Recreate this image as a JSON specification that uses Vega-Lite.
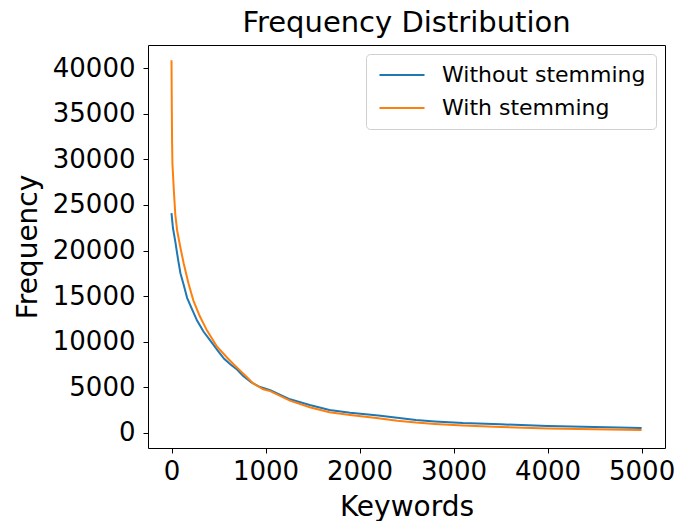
{
  "$schema": "https://vega.github.io/schema/vega-lite/v6.json",
  "width": 517,
  "height": 403,
  "autosize": {"type": "none"},
  "padding": {"left": 148, "top": 45, "right": 15, "bottom": 73},
  "background": "white",
  "title": {"text": "Frequency Distribution", "fontSize": 29, "font": "DejaVu Sans", "fontWeight": "normal", "color": "black", "offset": 7},
  "config": {
    "view": {"stroke": "black", "strokeWidth": 1},
    "axis": {"grid": false, "domain": false, "tickColor": "black", "tickSize": 5, "labelFont": "DejaVu Sans", "labelFontSize": 26, "labelColor": "black", "titleFont": "DejaVu Sans", "titleFontSize": 28, "titleFontWeight": "normal", "titleColor": "black"}
  },
  "data": {"values": [
    {"k": 0, "f": 24100, "s": "Without stemming"},
    {"k": 15, "f": 22500, "s": "Without stemming"},
    {"k": 40, "f": 21000, "s": "Without stemming"},
    {"k": 70, "f": 19000, "s": "Without stemming"},
    {"k": 95, "f": 17500, "s": "Without stemming"},
    {"k": 130, "f": 16200, "s": "Without stemming"},
    {"k": 166, "f": 14800, "s": "Without stemming"},
    {"k": 220, "f": 13500, "s": "Without stemming"},
    {"k": 272, "f": 12300, "s": "Without stemming"},
    {"k": 340, "f": 11100, "s": "Without stemming"},
    {"k": 413, "f": 10100, "s": "Without stemming"},
    {"k": 500, "f": 8900, "s": "Without stemming"},
    {"k": 560, "f": 8100, "s": "Without stemming"},
    {"k": 625, "f": 7500, "s": "Without stemming"},
    {"k": 700, "f": 6900, "s": "Without stemming"},
    {"k": 763, "f": 6200, "s": "Without stemming"},
    {"k": 850, "f": 5500, "s": "Without stemming"},
    {"k": 943, "f": 5000, "s": "Without stemming"},
    {"k": 1050, "f": 4650, "s": "Without stemming"},
    {"k": 1260, "f": 3650, "s": "Without stemming"},
    {"k": 1470, "f": 3020, "s": "Without stemming"},
    {"k": 1680, "f": 2470, "s": "Without stemming"},
    {"k": 1900, "f": 2180, "s": "Without stemming"},
    {"k": 2200, "f": 1880, "s": "Without stemming"},
    {"k": 2400, "f": 1620, "s": "Without stemming"},
    {"k": 2600, "f": 1380, "s": "Without stemming"},
    {"k": 2800, "f": 1220, "s": "Without stemming"},
    {"k": 3100, "f": 1040, "s": "Without stemming"},
    {"k": 3500, "f": 900, "s": "Without stemming"},
    {"k": 4000, "f": 730, "s": "Without stemming"},
    {"k": 4500, "f": 600, "s": "Without stemming"},
    {"k": 5000, "f": 490, "s": "Without stemming"},
    {"k": 0, "f": 40900, "s": "With stemming"},
    {"k": 3, "f": 36000, "s": "With stemming"},
    {"k": 6, "f": 32000, "s": "With stemming"},
    {"k": 10, "f": 29500, "s": "With stemming"},
    {"k": 25, "f": 26600, "s": "With stemming"},
    {"k": 40, "f": 24000, "s": "With stemming"},
    {"k": 60, "f": 22200, "s": "With stemming"},
    {"k": 95, "f": 20300, "s": "With stemming"},
    {"k": 130, "f": 18570, "s": "With stemming"},
    {"k": 180, "f": 16400, "s": "With stemming"},
    {"k": 233, "f": 14500, "s": "With stemming"},
    {"k": 300, "f": 12800, "s": "With stemming"},
    {"k": 378, "f": 11200, "s": "With stemming"},
    {"k": 480, "f": 9500, "s": "With stemming"},
    {"k": 590, "f": 8240, "s": "With stemming"},
    {"k": 660, "f": 7500, "s": "With stemming"},
    {"k": 731, "f": 6800, "s": "With stemming"},
    {"k": 800, "f": 6100, "s": "With stemming"},
    {"k": 869, "f": 5400, "s": "With stemming"},
    {"k": 975, "f": 4750, "s": "With stemming"},
    {"k": 1050, "f": 4550, "s": "With stemming"},
    {"k": 1260, "f": 3500, "s": "With stemming"},
    {"k": 1470, "f": 2770, "s": "With stemming"},
    {"k": 1680, "f": 2220, "s": "With stemming"},
    {"k": 1900, "f": 1920, "s": "With stemming"},
    {"k": 2200, "f": 1560, "s": "With stemming"},
    {"k": 2400, "f": 1300, "s": "With stemming"},
    {"k": 2600, "f": 1100, "s": "With stemming"},
    {"k": 2800, "f": 950, "s": "With stemming"},
    {"k": 3100, "f": 780, "s": "With stemming"},
    {"k": 3500, "f": 600, "s": "With stemming"},
    {"k": 4000, "f": 450, "s": "With stemming"},
    {"k": 4500, "f": 350, "s": "With stemming"},
    {"k": 5000, "f": 280, "s": "With stemming"}
  ]},
  "mark": {"type": "line", "strokeWidth": 2},
  "encoding": {
    "x": {"field": "k", "type": "quantitative", "scale": {"domain": [-250, 5249], "nice": false, "zero": false},
      "axis": {"values": [0, 1000, 2000, 3000, 4000, 5000], "title": "Keywords", "format": "d", "labelPadding": 5, "titlePadding": 9}},
    "y": {"field": "f", "type": "quantitative", "scale": {"domain": [-1700, 42580], "nice": false, "zero": false},
      "axis": {"values": [0, 5000, 10000, 15000, 20000, 25000, 30000, 35000, 40000], "title": "Frequency", "format": "d", "labelPadding": 8, "titlePadding": 10}},
    "color": {"field": "s", "type": "nominal", "sort": null,
      "scale": {"domain": ["Without stemming", "With stemming"], "range": ["#1f77b4", "#ff7f0e"]},
      "legend": {"title": null, "orient": "top-right", "offset": 9, "symbolType": "M-1,0H5", "symbolSize": 225, "symbolStrokeWidth": 2, "labelFont": "DejaVu Sans", "labelFontSize": 22, "labelLimit": 400, "labelColor": "black", "fillColor": "white", "strokeColor": "#d0d0d0", "cornerRadius": 4, "padding": 10, "rowPadding": 11, "labelOffset": 44}}
  }
}
